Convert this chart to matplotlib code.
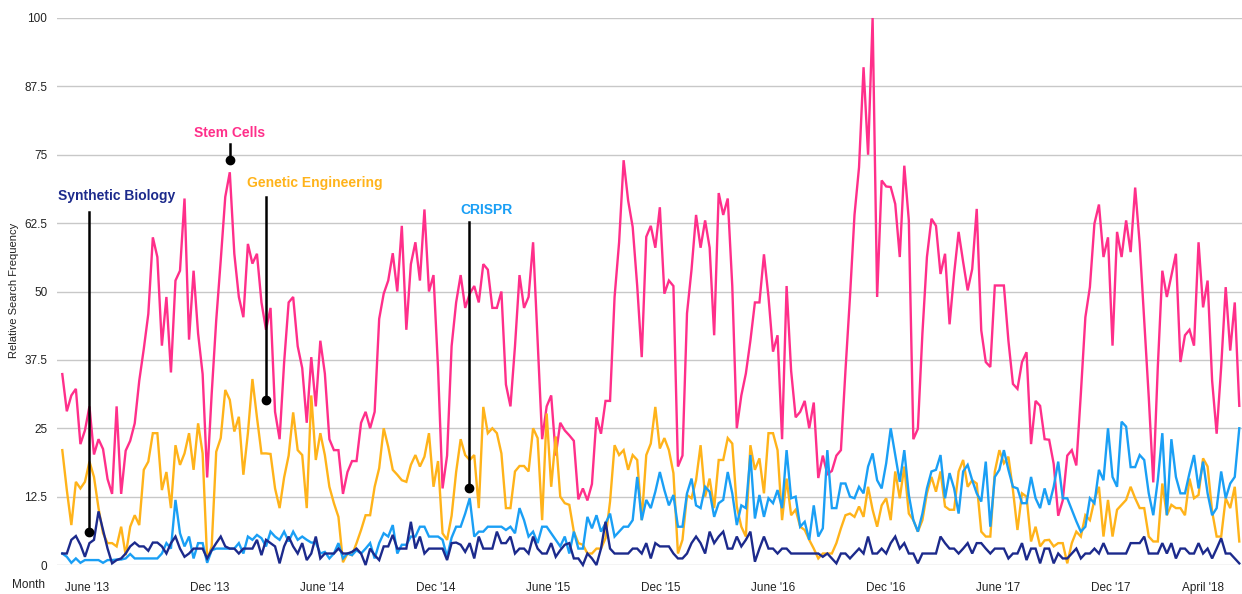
#
# Google Trends style chart: relative search frequency of four biotech terms,
# weekly, spring 2013 to spring 2018.
#

import matplotlib
matplotlib.use("Agg")
import matplotlib.pyplot as plt
import numpy as np

plt.rcParams['font.family'] = ['Liberation Sans', 'DejaVu Sans']

### Data (one value per week)

stem_cells = [
    34.9, 28.1, 31.0, 32.2, 22.1, 24.6, 29.0, 20.2, 23.0, 21.2, 15.7, 13.0, 29.0, 13.0, 20.9,
    22.7, 25.9, 33.7, 39.5, 45.9, 59.9, 56.3, 40.1, 49.0, 35.2, 52.0, 53.8, 67.0, 41.2, 53.8,
    42.3, 34.9, 16.0, 31.3, 44.7, 55.7, 67.3, 71.8, 56.9, 49.0, 45.3, 58.7, 55.1, 56.9,
    48, 43, 47, 28, 23, 37, 48, 49, 40, 36, 26, 38, 29, 41, 35, 23, 21, 21, 13, 17, 19, 19,
    26, 28, 25, 28, 45, 49.6, 52, 57, 50, 62, 43, 55, 59, 52, 65, 50, 53, 36, 14, 20, 40, 48, 53,
    47, 49.6, 51, 48, 55, 54, 47, 47, 50, 33, 29, 40, 53, 47, 49, 59, 41, 23, 29, 31, 20, 26,
    24.6, 23.7, 22.7, 12, 14, 11.8, 14.8, 27, 24, 30, 30, 49, 59, 74, 66.6, 61.8, 51, 38, 60,
    62, 58, 65.4, 49.6,
    52, 51, 18, 20, 46, 54, 64, 58, 63, 58, 42, 68, 64, 67, 51, 25, 31, 35, 41, 48, 48, 56.8,
    49, 39, 42, 23, 51, 35.5, 27, 28, 30, 25, 29.7, 15.9, 20, 16.6, 17.2, 20, 21, 35.5, 49, 64,
    72.7, 91,
    75, 100, 49, 70.3, 69.2, 69.1, 66, 56.3, 73, 63, 23, 24.9, 42.3, 56.3, 63.3, 62, 53.2, 56.9,
    44, 53.2, 60.9, 55.4, 50.2, 54.1, 65.1, 42.9, 37.1, 36.2, 51.1, 51.1, 51.1, 41, 33.1, 32.2,
    37.1, 38.9, 22.1, 30, 29.1, 23, 22.9, 18.5, 9, 11.8,
    20, 21, 18.2, 31.3, 45.3, 50.8, 62.4, 65.9, 56.3, 59.9, 40.1, 60.9, 56.3, 63, 57.2, 69,
    58.7, 44.7, 30.7, 15.1, 36.2, 53.8, 49, 52.9, 56.9, 37.1, 42, 43, 40.1, 59, 47.1, 52, 33.7,
    24, 36.2, 50.8, 39.2, 48, 29.1,
]

genetic_engineering = [
    21, 13.7, 7.3, 15.2, 14, 15.2, 18.9, 16.1, 10.4, 5.8, 4, 4, 3.4, 7, 1.8, 7, 9.1, 7.3, 17.4,
    18.9, 24.1, 24.1, 13.7, 17, 10.4, 21.9, 18.3, 20.4, 24.1, 17.4, 25.9, 20.4, 0.9, 3.4, 20.7,
    23.2, 32, 30.2, 24.4, 27.1, 16.5, 24.1, 34,
    27,
    20.4, 20.4, 20.3, 14, 10.4, 16, 20, 27.9, 21, 20.1, 10.4, 31, 19.2, 24.1, 20.1, 14.3, 11.3,
    8.8, 0.5, 2.1, 1.8, 4, 6.4, 9.1, 9.1, 14.3, 17.7, 25, 21.6, 17.4, 16.5, 15.5, 15.2, 18.3,
    20.1, 18, 19.8, 24.1, 14.3, 19, 5.8, 4.6,
    9,
    17, 23, 20.1, 19.2, 20.1, 10.4, 28.9, 24.1, 25, 24.1, 20.4, 10.4, 10.4, 17.1, 18.1, 18.1,
    17.1, 25, 23.2, 8.2, 27.7, 14.3, 23.5, 12.5, 11.3, 11, 6.1, 4, 3.7, 2.1, 2.1, 3, 3, 4.9,
    11.6, 21.9, 20.1, 21, 17.4, 20.1, 19.2, 8.2, 20.1, 22.2,
    28.9, 21.3, 23.2, 21, 16.8, 2.1, 4.6, 12.8, 12.2, 15.5, 21.9, 12.5, 15.8, 10.4, 19.2, 19.2,
    23.2, 22.2, 10.7, 7, 5.2, 21.9, 17.4, 19.5, 13.1, 24.1, 24.1, 21, 8.2, 15.8, 9.1, 10.1, 7,
    6.4, 4.6, 3, 1.2, 2.1, 2.1, 2.1, 4, 6.7, 9.1,
    9.4, 8.8, 10.7, 8.8, 14.3, 10.1, 7, 10.9, 12.2, 8.2, 17.1, 12.2, 18, 9.4, 8.2, 6.1, 8.2,
    13.1, 16.1, 13.4, 17.1, 10.7, 10.1, 10.1, 17.1, 19.2, 14.3, 15.5, 14.9, 6.1, 5.2, 5.2, 17.1,
    21, 18.6, 19.8, 13.7, 6.4, 13.1, 12.5, 4.3, 7, 3.4,
    4.5,
    4.6, 3.4, 4, 4, 0.3, 4, 6.1, 5.2, 9.1, 8.2, 11.9, 14.3, 5.2, 11.9, 5.2, 10.1, 11, 11.9,
    14.3, 12.2, 10.4, 10.4, 5.2, 4.3, 4.3, 14.9, 9.1, 11, 10.4, 10.4, 9.1, 15.8, 12.2, 12.8,
    19.5, 18, 9.8, 5.2, 5.2, 12.2, 10.4, 14.3, 4.3,
]

crispr = [
    2.1, 1.5, 0.4, 1.2, 0.4, 0.9, 0.9, 0.9, 0.9, 0.4, 0.9, 0.9, 1, 1, 1.2, 2, 1.2, 1.2, 1.2,
    1.2, 1.2, 1.2, 2.1, 4, 3, 11.9, 5.8, 3.4, 5.2, 1.2, 4, 4, 0.4, 2.7, 3, 3, 3, 3, 3, 4, 2.1,
    5.2, 4.6,
    5.5,
    4.9, 3.4, 6.1, 5.2, 4.6, 6.1, 4.3, 6.1, 4.6, 5.2, 4.6, 4.1, 4.1, 2.1, 2.4, 1.2, 2.1, 4, 1.2,
    2.1, 1.8, 2.7, 2.1, 3, 4, 1.2, 4, 5.8, 5.2, 7.3, 2.1, 3.7, 3.7, 5.2, 5.2, 7, 7, 5.2, 5.2,
    5.2, 4.6, 1.5, 5,
    7, 7, 9.4, 12.2, 5.2, 6.1, 6.1, 7, 7, 7, 7, 6.4, 7, 5.8, 10.4, 8.2, 5.2, 6.1, 4, 7, 7, 5.8,
    4.6, 3.4, 5.2, 2.1, 6.1, 3, 3, 8.8, 6.7, 9.1, 6.1, 7.6, 9.4, 5.2, 6.1, 7, 7, 8.2, 16.1, 8.2,
    11.9, 10.4,
    13.4, 17, 13.7, 10.9, 12.8, 7, 7, 13.1, 15.8, 10.9, 10.4, 14.3, 13.4, 8.8, 11.3, 11.9, 17,
    13.1, 7.3, 10.9, 10.4, 20.1, 8.5, 12.8, 8.8, 12.2, 11.3, 13.7, 10.4, 21, 12.2, 12.5, 7, 7.9,
    4.6, 10.9, 5.2, 6.7, 21, 10.4, 10.4, 14.9, 14.9,
    12.5, 12.2, 14.3, 13.1, 18, 20.4, 15.5, 14, 18.6, 25, 20.1, 15.2, 21, 12.8, 8.2, 6.1, 9.4,
    14, 17.1, 17.4, 20.1, 12.2, 16.8, 14, 9.4, 17.1, 18.3, 15.5, 13.1, 11.6, 18.9, 7, 16.1,
    17.4, 21, 17.4, 14.3, 14, 11.3, 11.3, 16.1, 12.2, 10.4,
    14, 11, 14.3, 18.9, 12.2, 12.2, 10.1, 8, 6.1, 7, 12.2, 11.3, 17.4, 15.5, 25, 16.1, 14.3,
    26.2, 25.3, 17.9, 17.9, 20.1, 19.2, 13.1, 9.1, 15.5, 24.1, 9.1, 23, 16.1, 13.1, 13.1, 16.8,
    20.1, 14, 18.9, 13.1, 9.1, 10.4, 17.1, 12.2, 14.9, 16.1, 25,
]

synthetic_biology = [
    2.1, 2.1, 4.6, 5.3, 3.7, 1.5, 4, 4.6, 9.8, 6.4, 3, 0.3, 0.9, 1.2, 2.1, 3.4, 4.1, 3.4, 3.4,
    2.6, 4.1, 4.1, 3.4, 2.1, 4, 5.2, 3, 1.5, 2.1, 3, 3, 3, 1.2, 2.7, 4, 5.2, 3.4, 3, 3, 2.1, 3,
    3, 3,
    4.6,
    1.8, 4.6, 4, 3.4, 0.3, 3.4, 5.2, 3.4, 2.1, 4, 0.9, 2.1, 5.2, 1.2, 2.1, 2.1, 2.1, 3, 2.1,
    2.1, 2.4, 3, 2.1, 0, 3, 1.8, 0.9, 3.4, 3.4, 5.5, 3, 3, 3, 7.9, 3, 5.2, 2.1, 3, 3, 3, 3, 0.9,
    4,
    4.1, 3.7, 2.4, 4, 1.2, 5.2, 3, 3, 3, 6.1, 4, 4, 5.2, 2.1, 3, 3, 2.1, 5.2, 3, 2.1, 2.1, 4,
    1.5, 2.7, 3.7, 4, 1.2, 1.2, 0, 2.1, 1.2, 0, 3, 7.9, 3, 2.1, 2.1, 2.1, 2.1, 3, 3, 2.1, 4, 1.2,
    4, 3.4, 3.4, 3.4, 2.1, 1.2, 1.2, 2.1, 4, 5.2, 4, 2.1, 6.1, 4, 5.2, 6.1, 3, 3, 5.2, 3.4, 4.6,
    6.1, 0.6, 3, 5.2, 3, 3, 2.1, 3, 3, 2.1, 2.1, 2.1, 2.1, 2.1, 2.1, 2.1, 1.5, 2.1, 1.2, 0.3,
    2.1, 2.1,
    1.2, 2.1, 3, 2.1, 5.2, 2.1, 2.1, 3, 2.1, 4, 5.2, 3, 4, 2.1, 2.1, 0.3, 2.1, 2.1, 2.1, 2.1,
    5.2, 4, 3, 3, 2.1, 3, 4, 2.1, 4, 4, 3, 2.1, 3, 3, 3, 1.2, 2.1, 2.1, 4, 0.9, 3, 3, 0.3,
    3, 3, 0.3, 2.1, 1.2, 1.2, 2.1, 3, 1.2, 2.1, 2.1, 3, 2.1, 4, 2.1, 2.1, 2.1, 2.1, 2.1, 4, 4,
    4, 5.2, 2.1, 2.1, 2.1, 4, 2.1, 4, 1.2, 3, 3, 2.1, 2.1, 4, 2.1, 3, 1.2, 3, 4.9, 2.1, 2.1,
    1.2, 0.3,
]

month_labels = ["June '13", "Dec '13", "June '14", "Dec '14", "June '15", "Dec '15",
                "June '16", "Dec '16", "June '17", "Dec '17", "April '18"]
month_weeks = [5.4, 32.6, 57.3, 82.6, 107.3, 132.2, 157.1, 182.0, 206.7, 231.6, 251.9]

series_names = ["Stem Cells", "Genetic Engineering", "CRISPR", "Synthetic Biology"]

### Styles

colors = {
    "Stem Cells": "#ff2f8a",
    "Genetic Engineering": "#ffb31a",
    "CRISPR": "#1a9ff5",
    "Synthetic Biology": "#1c2a8c",
}

weeks = np.arange(len(stem_cells))
values = {
    "Stem Cells": stem_cells,
    "Genetic Engineering": genetic_engineering,
    "CRISPR": crispr,
    "Synthetic Biology": synthetic_biology,
}

### Figure

fig = plt.figure(figsize=(12.42, 5.94), dpi=100)
ax = fig.add_axes([57 / 1242, 29 / 594, 1 - 57 / 1242, 547 / 594])

for name in series_names:
    ax.plot(weeks, values[name], color=colors[name], lw=1.7, clip_on=False,
            solid_joinstyle='miter')

ax.set_xlim(-1.17, 260.6)
ax.set_ylim(0, 100)

yt = np.arange(0, 100.1, 12.5)
ax.set_yticks(yt)
ax.set_yticklabels([f"{v:g}" for v in yt], fontsize=8.5, color='#222222')
ax.set_xticks(month_weeks)
ax.set_xticklabels(month_labels, fontsize=8.5, color='#222222')
ax.tick_params(axis='both', length=0)
ax.tick_params(axis='y', pad=7)
ax.tick_params(axis='x', pad=12)

ax.yaxis.grid(True, color='#c8c8c8', lw=1)
ax.set_axisbelow(True)
for s in ax.spines.values():
    s.set_visible(False)

# axis titles placed on the figure, as in the original
fig.text(14 / 1242, 1 - 290 / 594, "Relative Search Frequency", fontsize=8,
         color='#222222', rotation=90, ha='center', va='center')
fig.text(12 / 1242, 1 - 585 / 594, "Month", fontsize=8.5, color='#222222', va='center')

# callouts: (week, dot value, line top value, label x, label y, alignment)
callouts = {
    "Synthetic Biology": (5.9, 6.0, 64.5, -0.9, 67.5, 'left'),
    "Stem Cells": (37.0, 74.0, 77.0, 37.0, 79.0, 'center'),
    "Genetic Engineering": (44.9, 30.2, 67.3, 40.7, 69.8, 'left'),
    "CRISPR": (89.9, 14.1, 62.7, 87.9, 64.9, 'left'),
}
for name, (wk, dot, top, tx, ty, ha) in callouts.items():
    ax.plot([wk, wk], [dot, top], color='black', lw=1.8, zorder=5)
    ax.plot(wk, dot, 'o', color='black', ms=6, zorder=6)
    ax.text(tx, ty, name, color=colors[name], fontsize=10, fontweight='bold',
            ha=ha, va='center')

plt.savefig("out.png", dpi=100)
